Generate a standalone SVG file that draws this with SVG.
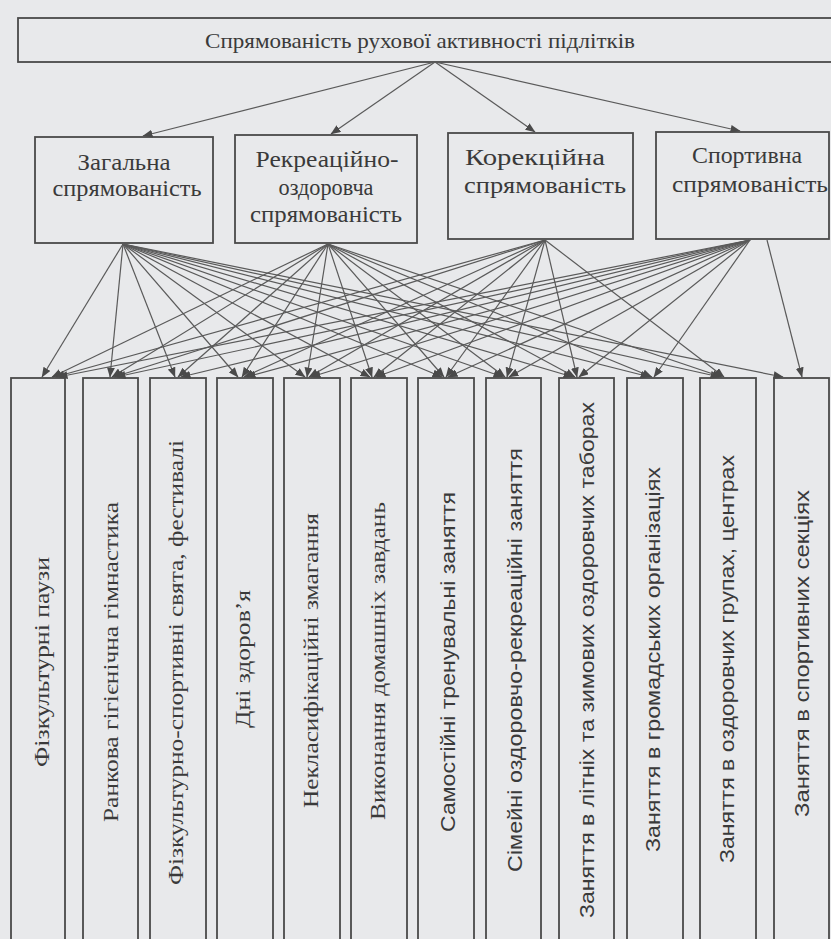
<svg xmlns="http://www.w3.org/2000/svg" width="831" height="939" viewBox="0 0 831 939">
<defs>
<style>
.bg{fill:#e8e9eb}
.box{fill:none;stroke:#4a4a4a;stroke-width:1.8}
.t{font-family:"Liberation Serif","Times New Roman",serif;fill:#3a3a3a}
.s{font-family:"Liberation Sans",Arial,sans-serif;fill:#3a3a3a}
.top{font-size:21px}
.mid{font-size:23px}
.v{font-size:21px}
.c line{stroke:#5a5a5a;stroke-width:1.2;marker-end:url(#ah)}
</style>
<marker id="ah" markerWidth="10" markerHeight="8" refX="9.5" refY="4" orient="auto" markerUnits="userSpaceOnUse">
<path d="M0,0 L10,4 L0,8 z" fill="#4a4a4a"/>
</marker>
</defs>
<rect class="bg" x="0" y="0" width="831" height="939"/>

<g id="root">
<rect class="box" x="18" y="18" width="820" height="44"/>
<text class="t top" font-family="Liberation Serif, serif" x="420" y="48" text-anchor="middle" textLength="430" lengthAdjust="spacingAndGlyphs">Спрямованість рухової активності підлітків</text>
</g>

<g id="m1">
<rect class="box" x="35" y="137" width="178" height="106"/>
<text class="t mid" x="124" y="170" text-anchor="middle" textLength="93" lengthAdjust="spacingAndGlyphs">Загальна</text>
<text class="t mid" x="127" y="196" text-anchor="middle" textLength="149" lengthAdjust="spacingAndGlyphs">спрямованість</text>
</g>
<g id="m2">
<rect class="box" x="235" y="135" width="182" height="108"/>
<text class="t mid" x="327" y="167" text-anchor="middle" textLength="143" lengthAdjust="spacingAndGlyphs">Рекреаційно-</text>
<text class="t mid" x="326" y="195" text-anchor="middle" textLength="95" lengthAdjust="spacingAndGlyphs">оздоровча</text>
<text class="t mid" x="326" y="222" text-anchor="middle" textLength="152" lengthAdjust="spacingAndGlyphs">спрямованість</text>
</g>
<g id="m3">
<rect class="box" x="448" y="133" width="185" height="106"/>
<text class="t mid" x="535" y="165" text-anchor="middle" textLength="140" lengthAdjust="spacingAndGlyphs">Корекційна</text>
<text class="t mid" x="545" y="193" text-anchor="middle" textLength="162" lengthAdjust="spacingAndGlyphs">спрямованість</text>
</g>
<g id="m4">
<rect class="box" x="656" y="132" width="173" height="107"/>
<text class="t mid" x="747" y="163" text-anchor="middle" textLength="110" lengthAdjust="spacingAndGlyphs">Спортивна</text>
<text class="t mid" x="750" y="192" text-anchor="middle" textLength="156" lengthAdjust="spacingAndGlyphs">спрямованість</text>
</g>

<g id="b1"><rect class="box" x="11" y="378" width="54" height="580"/>
<text class="t v" transform="translate(49,767) rotate(-90)" textLength="210" lengthAdjust="spacingAndGlyphs">Фізкультурні паузи</text></g>
<g id="b2"><rect class="box" x="83" y="378" width="55" height="580"/>
<text class="t v" transform="translate(118,822) rotate(-90)" textLength="320" lengthAdjust="spacingAndGlyphs">Ранкова гігієнічна гімнастика</text></g>
<g id="b3"><rect class="box" x="150" y="378" width="56" height="580"/>
<text class="t v" transform="translate(183,885) rotate(-90)" textLength="445" lengthAdjust="spacingAndGlyphs">Фізкультурно-спортивні свята, фестивалі</text></g>
<g id="b4"><rect class="box" x="217" y="378" width="56" height="580"/>
<text class="t v" transform="translate(250,728) rotate(-90)" textLength="138" lengthAdjust="spacingAndGlyphs">Дні здоров’я</text></g>
<g id="b5"><rect class="box" x="284" y="378" width="56" height="580"/>
<text class="t v" transform="translate(318,808) rotate(-90)" textLength="295" lengthAdjust="spacingAndGlyphs">Некласифікаційні змагання</text></g>
<g id="b6"><rect class="box" x="351" y="378" width="56" height="580"/>
<text class="t v" transform="translate(385,820) rotate(-90)" textLength="318" lengthAdjust="spacingAndGlyphs">Виконання домашніх завдань</text></g>
<g id="b7"><rect class="box" x="418" y="378" width="56" height="580"/>
<text class="s v" transform="translate(455,832) rotate(-90)" textLength="340" lengthAdjust="spacingAndGlyphs">Самостійні тренувальні заняття</text></g>
<g id="b8"><rect class="box" x="486" y="378" width="55" height="580"/>
<text class="s v" transform="translate(522,872) rotate(-90)" textLength="424" lengthAdjust="spacingAndGlyphs">Сімейні оздоровчо-рекреаційні заняття</text></g>
<g id="b9"><rect class="box" x="559" y="378" width="55" height="580"/>
<text class="s v" transform="translate(594,918) rotate(-90)" textLength="516" lengthAdjust="spacingAndGlyphs">Заняття в літніх та зимових оздоровчих таборах</text></g>
<g id="b10"><rect class="box" x="627" y="378" width="56" height="580"/>
<text class="s v" transform="translate(660,852) rotate(-90)" textLength="385" lengthAdjust="spacingAndGlyphs">Заняття в громадських організаціях</text></g>
<g id="b11"><rect class="box" x="700" y="378" width="56" height="580"/>
<text class="s v" transform="translate(734,863) rotate(-90)" textLength="408" lengthAdjust="spacingAndGlyphs">Заняття в оздоровчих групах, центрах</text></g>
<g id="b12"><rect class="box" x="774" y="378" width="55" height="580"/>
<text class="s v" transform="translate(809,817) rotate(-90)" textLength="327" lengthAdjust="spacingAndGlyphs">Заняття в спортивних секціях</text></g>

<g id="connectors" class="c">
<line x1="435" y1="62" x2="143" y2="136"/>
<line x1="435" y1="62" x2="331" y2="134"/>
<line x1="435" y1="62" x2="535" y2="132"/>
<line x1="435" y1="62" x2="740" y2="131"/>

<line x1="123" y1="244" x2="42" y2="377"/>
<line x1="123" y1="244" x2="110" y2="377"/>
<line x1="123" y1="244" x2="175" y2="377"/>
<line x1="123" y1="244" x2="238" y2="377"/>
<line x1="123" y1="244" x2="305" y2="377"/>
<line x1="123" y1="244" x2="370" y2="377"/>
<line x1="123" y1="244" x2="442" y2="377"/>
<line x1="123" y1="244" x2="503" y2="377"/>
<line x1="123" y1="244" x2="573" y2="377"/>
<line x1="123" y1="244" x2="650" y2="377"/>
<line x1="123" y1="244" x2="720" y2="377"/>
<line x1="123" y1="244" x2="783" y2="377"/>

<line x1="328" y1="244" x2="52" y2="377"/>
<line x1="328" y1="244" x2="112" y2="377"/>
<line x1="328" y1="244" x2="178" y2="377"/>
<line x1="328" y1="244" x2="242" y2="377"/>
<line x1="328" y1="244" x2="307" y2="377"/>
<line x1="328" y1="244" x2="372" y2="377"/>
<line x1="328" y1="244" x2="444" y2="377"/>
<line x1="328" y1="244" x2="505" y2="377"/>
<line x1="328" y1="244" x2="575" y2="377"/>
<line x1="328" y1="244" x2="652" y2="377"/>
<line x1="328" y1="244" x2="722" y2="377"/>

<line x1="545" y1="240" x2="55" y2="377"/>
<line x1="545" y1="240" x2="114" y2="377"/>
<line x1="545" y1="240" x2="244" y2="377"/>
<line x1="545" y1="240" x2="309" y2="377"/>
<line x1="545" y1="240" x2="374" y2="377"/>
<line x1="545" y1="240" x2="446" y2="377"/>
<line x1="545" y1="240" x2="507" y2="377"/>
<line x1="545" y1="240" x2="577" y2="377"/>
<line x1="545" y1="240" x2="724" y2="377"/>

<line x1="750" y1="240" x2="58" y2="377"/>
<line x1="750" y1="240" x2="116" y2="377"/>
<line x1="750" y1="240" x2="181" y2="377"/>
<line x1="750" y1="240" x2="246" y2="377"/>
<line x1="750" y1="240" x2="311" y2="377"/>
<line x1="750" y1="240" x2="376" y2="377"/>
<line x1="750" y1="240" x2="448" y2="377"/>
<line x1="750" y1="240" x2="509" y2="377"/>
<line x1="750" y1="240" x2="579" y2="377"/>
<line x1="750" y1="240" x2="654" y2="377"/>
<line x1="767" y1="240" x2="802" y2="377"/>
</g>
</svg>
